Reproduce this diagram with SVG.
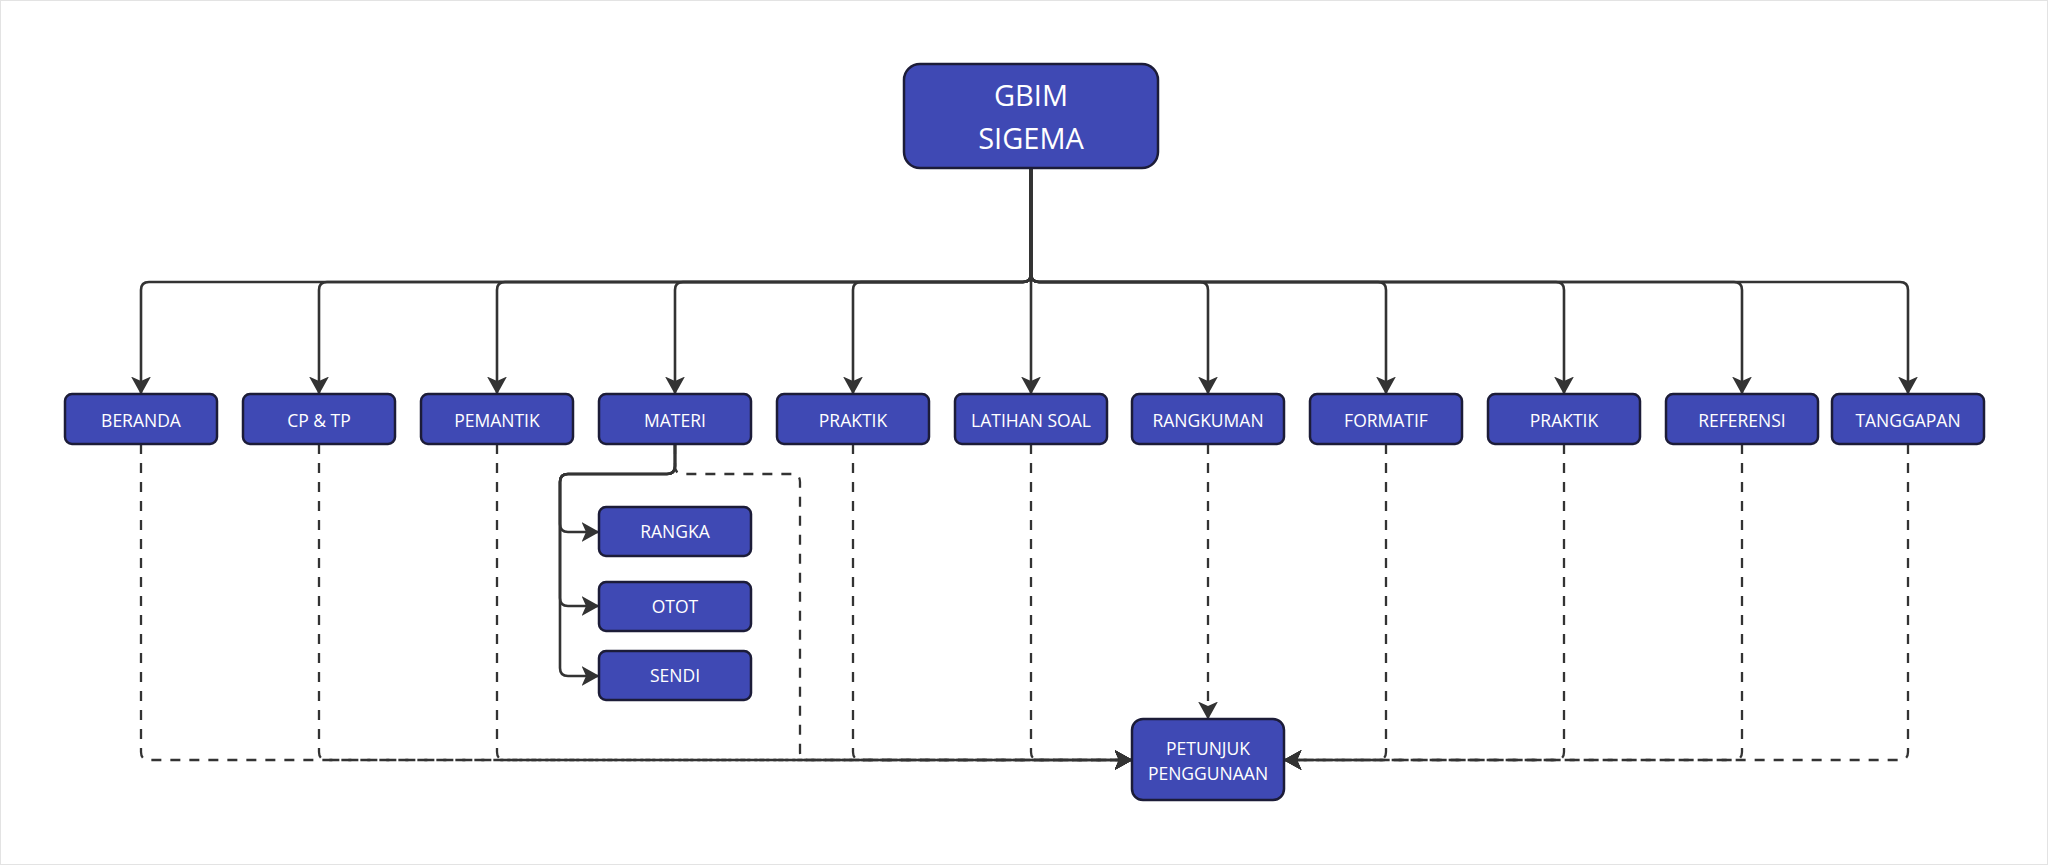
<svg xmlns="http://www.w3.org/2000/svg" width="2048" height="865" viewBox="0 0 2048 865">
<style>
.box{fill:#3f49b4;stroke:#1c1c38;stroke-width:2.5}
.lbl{font-family:"Open Sans","Noto Sans","Liberation Sans",sans-serif;font-size:17.5px;fill:#ffffff;text-anchor:middle}
.big{font-size:29px}
.solid{fill:none;stroke:#333333;stroke-width:2.6;marker-end:url(#arr)}
.dash{fill:none;stroke:#333333;stroke-width:2.3;stroke-dasharray:10 9;marker-end:url(#arr)}
</style>
<defs>
<marker id="arr" viewBox="0 0 18 20" refX="17.5" refY="10" markerWidth="18" markerHeight="20" markerUnits="userSpaceOnUse" orient="auto">
<path d="M0,0 L18,10 L0,20 L4.5,10 z" fill="#333333" stroke="none"/>
</marker>
</defs>
<rect x="0.5" y="0.5" width="2047" height="864" fill="#ffffff" stroke="#e3e3e3" stroke-width="1"/>
<g id="connectors">
<path class="solid" d="M1031,168 V274 Q1031,282 1023,282 H149 Q141,282 141,290 V394"/>
<path class="solid" d="M1031,168 V274 Q1031,282 1023,282 H327 Q319,282 319,290 V394"/>
<path class="solid" d="M1031,168 V274 Q1031,282 1023,282 H505 Q497,282 497,290 V394"/>
<path class="solid" d="M1031,168 V274 Q1031,282 1023,282 H683 Q675,282 675,290 V394"/>
<path class="solid" d="M1031,168 V274 Q1031,282 1023,282 H861 Q853,282 853,290 V394"/>
<path class="solid" d="M1031,168 V394"/>
<path class="solid" d="M1031,168 V274 Q1031,282 1039,282 H1200 Q1208,282 1208,290 V394"/>
<path class="solid" d="M1031,168 V274 Q1031,282 1039,282 H1378 Q1386,282 1386,290 V394"/>
<path class="solid" d="M1031,168 V274 Q1031,282 1039,282 H1556 Q1564,282 1564,290 V394"/>
<path class="solid" d="M1031,168 V274 Q1031,282 1039,282 H1734 Q1742,282 1742,290 V394"/>
<path class="solid" d="M1031,168 V274 Q1031,282 1039,282 H1900 Q1908,282 1908,290 V394"/>
<path class="solid" d="M675,444 V466 Q675,474 667,474 H568 Q560,474 560,482 V524 Q560,532 568,532 H599"/>
<path class="solid" d="M675,444 V466 Q675,474 667,474 H568 Q560,474 560,482 V598 Q560,606 568,606 H599"/>
<path class="solid" d="M675,444 V466 Q675,474 667,474 H568 Q560,474 560,482 V668 Q560,676 568,676 H599"/>
<path class="dash" d="M141,444 V752 Q141,760 149,760 H1132"/>
<path class="dash" d="M319,444 V752 Q319,760 327,760 H1132"/>
<path class="dash" d="M497,444 V752 Q497,760 505,760 H1132"/>
<path class="dash" d="M675,444 V466 Q675,474 683,474 H792 Q800,474 800,482 V752 Q800,760 808,760 H1132"/>
<path class="dash" d="M853,444 V752 Q853,760 861,760 H1132"/>
<path class="dash" d="M1031,444 V752 Q1031,760 1039,760 H1132"/>
<path class="dash" d="M1208,444 V719"/>
<path class="dash" d="M1386,444 V752 Q1386,760 1378,760 H1284"/>
<path class="dash" d="M1564,444 V752 Q1564,760 1556,760 H1284"/>
<path class="dash" d="M1742,444 V752 Q1742,760 1734,760 H1284"/>
<path class="dash" d="M1908,444 V752 Q1908,760 1900,760 H1284"/>
</g>
<g id="gbim"><rect class="box" x="904" y="64" width="254" height="104" rx="16"/><text class="lbl big" x="1031" y="106">GBIM</text><text class="lbl big" x="1031" y="149">SIGEMA</text></g>
<g id="beranda"><rect class="box" x="65" y="394" width="152" height="50" rx="7"/><text class="lbl" x="141" y="426.5">BERANDA</text></g>
<g id="cptp"><rect class="box" x="243" y="394" width="152" height="50" rx="7"/><text class="lbl" x="319" y="426.5">CP &amp; TP</text></g>
<g id="pemantik"><rect class="box" x="421" y="394" width="152" height="50" rx="7"/><text class="lbl" x="497" y="426.5">PEMANTIK</text></g>
<g id="materi"><rect class="box" x="599" y="394" width="152" height="50" rx="7"/><text class="lbl" x="675" y="426.5">MATERI</text></g>
<g id="praktik1"><rect class="box" x="777" y="394" width="152" height="50" rx="7"/><text class="lbl" x="853" y="426.5">PRAKTIK</text></g>
<g id="latihan"><rect class="box" x="955" y="394" width="152" height="50" rx="7"/><text class="lbl" x="1031" y="426.5">LATIHAN SOAL</text></g>
<g id="rangkuman"><rect class="box" x="1132" y="394" width="152" height="50" rx="7"/><text class="lbl" x="1208" y="426.5">RANGKUMAN</text></g>
<g id="formatif"><rect class="box" x="1310" y="394" width="152" height="50" rx="7"/><text class="lbl" x="1386" y="426.5">FORMATIF</text></g>
<g id="praktik2"><rect class="box" x="1488" y="394" width="152" height="50" rx="7"/><text class="lbl" x="1564" y="426.5">PRAKTIK</text></g>
<g id="referensi"><rect class="box" x="1666" y="394" width="152" height="50" rx="7"/><text class="lbl" x="1742" y="426.5">REFERENSI</text></g>
<g id="tanggapan"><rect class="box" x="1832" y="394" width="152" height="50" rx="7"/><text class="lbl" x="1908" y="426.5">TANGGAPAN</text></g>
<g id="rangka"><rect class="box" x="599" y="507" width="152" height="49" rx="7"/><text class="lbl" x="675" y="538">RANGKA</text></g>
<g id="otot"><rect class="box" x="599" y="582" width="152" height="49" rx="7"/><text class="lbl" x="675" y="612.5">OTOT</text></g>
<g id="sendi"><rect class="box" x="599" y="651" width="152" height="49" rx="7"/><text class="lbl" x="675" y="682">SENDI</text></g>
<g id="petunjuk"><rect class="box" x="1132" y="719" width="152" height="81" rx="11"/><text class="lbl" x="1208" y="755">PETUNJUK</text><text class="lbl" x="1208" y="780">PENGGUNAAN</text></g>
</svg>
